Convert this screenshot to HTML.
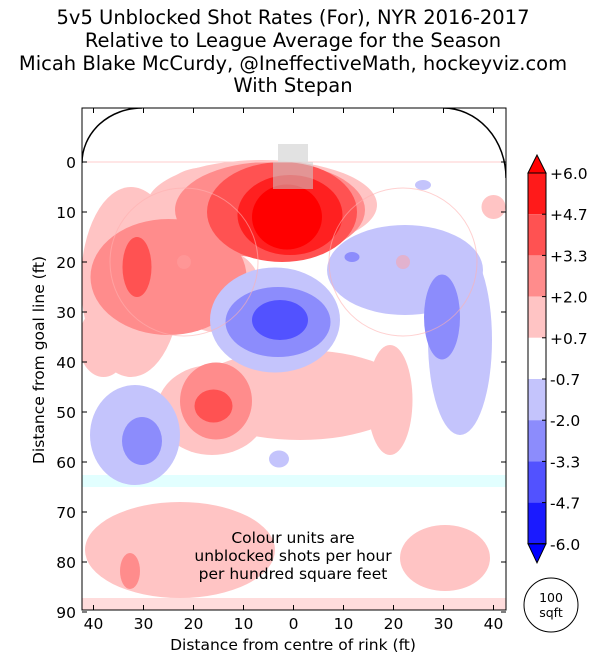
<!DOCTYPE html>
<html><head><meta charset="utf-8"><style>
body{margin:0;background:#fff;}
svg text{font-family:"DejaVu Sans","Liberation Sans",sans-serif;}
</style></head><body>
<svg id="chart" width="602" height="663" viewBox="0 0 602 663" xmlns="http://www.w3.org/2000/svg">
<g font-size="19.5" text-anchor="middle" fill="#000">
<text x="293" y="24">5v5 Unblocked Shot Rates (For), NYR 2016-2017</text>
<text x="293" y="47">Relative to League Average for the Season</text>
<text x="293" y="70">Micah Blake McCurdy, @IneffectiveMath, hockeyviz.com</text>
<text x="293" y="92">With Stepan</text>
</g>
<defs><clipPath id="pc"><rect x="82" y="108" width="424" height="502"/></clipPath></defs>
<g id="plot" clip-path="url(#pc)"></g>
<g id="axes"></g>
<g id="cbar"></g>
</svg>
<script>
// blob data (feet): x (from centre), y (from goal line), rx, ry, level
const blobX   = [-6.3,-32.5,-15.5, 1.3,19.3,-16.3,40,-22.7,30.3,-17,-38, -4.7,-25,-15.5,-32.7, -2.3,-31.3,-16, -0.7, -1.3, 22.3,33.3,-3.7,-31.7,-2.9,25.9, -3.1,29.7,-30.3,11.7, -2.7];
const blobY   = [8.6,24,25.6,46.6,47.6,49.6,9,77.6,79.2,5,36, 9.6,23,47.8,81.8, 10,21,48.8, 10.6, 11, 21.6,35.6,31.6,54.6,59.4,4.6, 32,31,55.8,19, 31.6];
const blobRX  = [23,10,9,22,4.5,11,2.4,19,9,8,5, 19,15.6,7.2,2, 15,2.9,3.8, 10.5, 7, 15.6,6.4,13,9,2,1.6, 10.5,3.6,4,1.5, 5.6];
const blobRY  = [9,19,8.4,9,11,9,2.4,9.6,6.6,4,7, 9.6,11.6,7.7,3.6, 10,6,3.3, 8, 6.5, 9,19,10.5,10,1.7,1, 7,8.5,4.8,1, 4];
const blobLev = [1,1,1,1,1,1,1,1,1,1,1, 2,2,2,2, 3,3,3, 4, 5, -1,-1,-1,-1,-1,-1, -2,-2,-2,-2, -3];
const cbTicks = ["+6.0","+4.7","+3.3","+2.0","+0.7","-0.7","-2.0","-3.3","-4.7","-6.0"];
const xTicks = [40,30,20,10,0,10,20,30,40];
const xTickVals = [-40,-30,-20,-10,0,10,20,30,40];
const yTicks = [0,10,20,30,40,50,60,70,80,90];

const NS="http://www.w3.org/2000/svg";
const sx=f=>293.5+f*5, sy=f=>162+f*5;
const col={5:"#ff0000",4:"#ff2020",3:"#ff5252",2:"#ff8c8c",1:"#ffc4c4","-1":"#c4c4fc","-2":"#8c8cfc","-3":"#5252ff"};
function mk(t,a,p){const e=document.createElementNS(NS,t);for(const k in a)e.setAttribute(k,a[k]);p.appendChild(e);return e;}
const plot=document.getElementById('plot');
mk('rect',{x:82,y:sy(62.6),width:424,height:12,fill:"#e2ffff"},plot);
mk('rect',{x:82,y:598,width:424,height:12,fill:"#ffdcdc"},plot);
const order=[1,2,3,4,5,-1,-2,-3];
order.forEach(L=>{blobLev.forEach((lv,i)=>{if(lv!==L)return;
 const e=mk('ellipse',{cx:sx(blobX[i]),cy:sy(blobY[i]),rx:blobRX[i]*5,ry:blobRY[i]*5,fill:col[lv]},plot);
 
 
});});
mk('line',{x1:82,x2:506,y1:162,y2:162,stroke:"#ffcccc","stroke-width":1},plot);
[184,403].forEach(cx=>{mk('circle',{cx:cx,cy:262,r:74,fill:"none",stroke:"#ffb0b0","stroke-opacity":0.6},plot);mk('circle',{cx:cx,cy:262,r:7,fill:"#ffa0a0","fill-opacity":0.5},plot);});
mk('rect',{x:278,y:144,width:30,height:18,fill:"#dddddd","fill-opacity":0.85},plot);
mk('rect',{x:273,y:162,width:40,height:27,fill:"#cccccc","fill-opacity":0.55},plot);
mk('path',{d:"M82,163 A60,55 0 0 1 142,108",fill:"none",stroke:"#000","stroke-width":1.5},plot);
mk('path',{d:"M443,108 A63,70 0 0 1 506,178",fill:"none",stroke:"#000","stroke-width":1.5},plot);
const note=mk('text',{x:293,y:543,"font-size":15.5,"text-anchor":"middle"},plot);
["Colour units are","unblocked shots per hour","per hundred square feet"].forEach((t,i)=>{const s=mk('tspan',{x:293,dy:i?18:0},note);s.textContent=t;});



const ax=document.getElementById('axes');
mk('rect',{x:82,y:108,width:424,height:502,fill:"none",stroke:"#000","stroke-width":1},ax);
xTickVals.forEach((v,i)=>{const x=sx(v);
 mk('line',{x1:x,x2:x,y1:108,y2:113,stroke:"#000"},ax);mk('line',{x1:x,x2:x,y1:610,y2:605,stroke:"#000"},ax);
 const t=mk('text',{x:x,y:629,"font-size":15.5,"text-anchor":"middle"},ax);t.textContent=xTicks[i];
 
 });
yTicks.forEach(v=>{const y=sy(v);
 mk('line',{x1:82,x2:87,y1:y,y2:y,stroke:"#000"},ax);mk('line',{x1:506,x2:501,y1:y,y2:y,stroke:"#000"},ax);
 const t=mk('text',{x:76,y:y+6,"font-size":15.5,"text-anchor":"end"},ax);t.textContent=v;
 
 });
const xl=mk('text',{x:293,y:650,"font-size":15.5,"text-anchor":"middle"},ax);xl.textContent="Distance from centre of rink (ft)";


const yl=mk('text',{x:0,y:0,"font-size":15.5,"text-anchor":"middle",transform:"translate(44,360) rotate(-90)"},ax);yl.textContent="Distance from goal line (ft)";



const cb=document.getElementById('cbar');
const cbCols=["#ff1a1a","#ff5252","#ff8c8c","#ffc4c4","#ffffff","#c4c4fc","#8c8cfc","#5252ff","#1a1aff"];
const cbTop=173, step=41.2, X=528, W=18;
mk('path',{d:`M${X},${cbTop} L${X+W/2},155 L${X+W},${cbTop} Z`,fill:"#ff0000",stroke:"#000"},cb);
cbCols.forEach((c,i)=>{const r=mk('rect',{x:X,y:cbTop+i*step,width:W,height:step,fill:c},cb);
 
 });
const bot=cbTop+9*step;
mk('path',{d:`M${X},${bot} L${X+W/2},${bot+19} L${X+W},${bot} Z`,fill:"#0000ff",stroke:"#000"},cb);
mk('rect',{x:X,y:cbTop,width:W,height:9*step,fill:"none",stroke:"#000"},cb);
cbTicks.forEach((t,i)=>{const y=cbTop+i*step;mk('line',{x1:X+W-4,x2:X+W,y1:y,y2:y,stroke:"#000"},cb);
 const e=mk('text',{x:550,y:y+6,"font-size":15.5,"font-family":"Liberation Mono, monospace"},cb);e.textContent=t;
 
 });
mk('circle',{cx:551,cy:605,r:27,fill:"#fff",stroke:"#000"},cb);
const s1=mk('text',{x:551,y:602,"font-size":12.5,"text-anchor":"middle"},cb);s1.textContent="100";
const s2=mk('text',{x:551,y:617,"font-size":12.5,"text-anchor":"middle"},cb);s2.textContent="sqft";


</script>
</body></html>
